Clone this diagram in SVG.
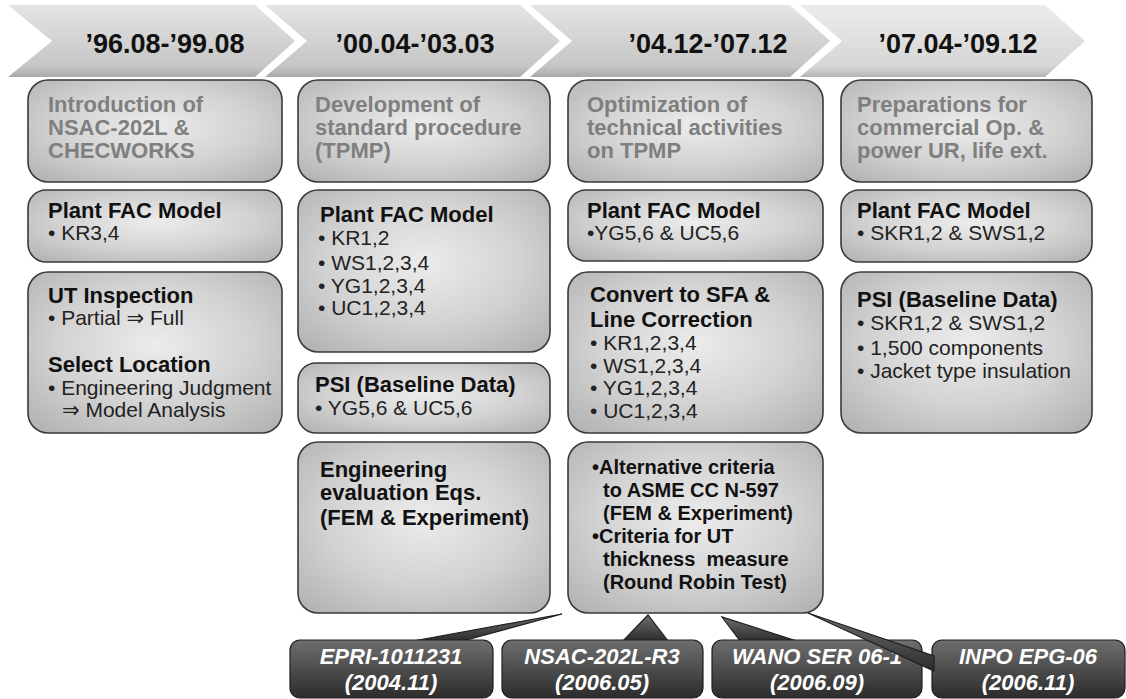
<svg xmlns="http://www.w3.org/2000/svg" width="1126" height="699" viewBox="0 0 1126 699">
<defs>
<linearGradient id="chev" x1="0" y1="0" x2="0" y2="1">
<stop offset="0" stop-color="#e4e4e4"/>
<stop offset="0.85" stop-color="#c6c6c6"/>
<stop offset="1" stop-color="#a9a9a9"/>
</linearGradient>
<linearGradient id="chev4" x1="0" y1="0" x2="0" y2="1">
<stop offset="0" stop-color="#ececec"/>
<stop offset="0.85" stop-color="#d6d6d6"/>
<stop offset="1" stop-color="#b4b4b4"/>
</linearGradient>
<radialGradient id="boxg" cx="0.5" cy="0.45" r="0.7">
<stop offset="0" stop-color="#ececec"/>
<stop offset="0.55" stop-color="#d2d2d2"/>
<stop offset="1" stop-color="#b3b3b3"/>
</radialGradient>
<linearGradient id="dark" x1="0" y1="0" x2="0" y2="1">
<stop offset="0" stop-color="#6e6e6e"/>
<stop offset="1" stop-color="#2c2c2c"/>
</linearGradient>
<style>
.box{fill:url(#boxg);stroke:#3a3a3a;stroke-width:1.6}
.dk{fill:url(#dark);stroke:#1e1e1e;stroke-width:1.2}
.hd{font-family:"Liberation Sans",Arial,sans-serif;font-weight:bold;font-size:27px;fill:#111;text-anchor:middle}
.g{font-family:"Liberation Sans",Arial,sans-serif;font-weight:bold;font-size:22px;fill:#7f7f7f}
.b{font-family:"Liberation Sans",Arial,sans-serif;font-weight:bold;font-size:22px;fill:#111}
.s{font-family:"Liberation Sans",Arial,sans-serif;font-weight:bold;font-size:20px;fill:#111}
.r{font-family:"Liberation Sans","DejaVu Sans",Arial,sans-serif;font-size:21px;fill:#222}
.w{font-family:"Liberation Sans",Arial,sans-serif;font-weight:bold;font-style:italic;font-size:22px;fill:#fff;text-anchor:middle}
</style>
</defs>
<rect width="1126" height="699" fill="#fff"/>

<g id="headers">
<g id="h1"><polygon points="8,5 255,5 295,41 255,77 8,77 52,41" fill="url(#chev)"/><text class="hd" x="165" y="53">’96.08-’99.08</text></g>
<g id="h2"><polygon points="265,5 520,5 560,41 520,77 265,77 307,41" fill="url(#chev)"/><text class="hd" x="415" y="53">’00.04-’03.03</text></g>
<g id="h3"><polygon points="530,5 790,5 830,41 790,77 530,77 572,41" fill="url(#chev)"/><text class="hd" x="708" y="53">’04.12-’07.12</text></g>
<g id="h4"><polygon points="800,5 1045,5 1085,41 1045,77 800,77 842,41" fill="url(#chev4)"/><text class="hd" x="958" y="53">’07.04-’09.12</text></g>
</g>

<g id="col1">
<g id="c1b1"><rect class="box" x="28" y="80" width="254" height="102" rx="20"/>
<text class="g" x="48" y="112">Introduction of</text><text class="g" x="48" y="135">NSAC-202L &amp;</text><text class="g" x="48" y="158">CHECWORKS</text></g>
<g id="c1b2"><rect class="box" x="28" y="190" width="254" height="72" rx="18"/>
<text class="b" x="48" y="218">Plant FAC Model</text><text class="r" x="48" y="240">• KR3,4</text></g>
<g id="c1b3"><rect class="box" x="28" y="272" width="254" height="161" rx="20"/>
<text class="b" x="48" y="303">UT Inspection</text><text class="r" x="48" y="325">• Partial ⇒ Full</text>
<text class="b" x="48" y="372">Select Location</text><text class="r" x="48" y="395">• Engineering Judgment</text><text class="r" x="62" y="417">⇒ Model Analysis</text></g>
</g>

<g id="col2">
<g id="c2b1"><rect class="box" x="298" y="80" width="252" height="102" rx="20"/>
<text class="g" x="315" y="112">Development of</text><text class="g" x="315" y="135">standard procedure</text><text class="g" x="315" y="158">(TPMP)</text></g>
<g id="c2b2"><rect class="box" x="298" y="190" width="252" height="162" rx="20"/>
<text class="b" x="320" y="222">Plant FAC Model</text><text class="r" x="318" y="245">• KR1,2</text><text class="r" x="318" y="270">• WS1,2,3,4</text><text class="r" x="318" y="293">• YG1,2,3,4</text><text class="r" x="318" y="315">• UC1,2,3,4</text></g>
<g id="c2b3"><rect class="box" x="298" y="363" width="252" height="70" rx="18"/>
<text class="b" x="315" y="392">PSI (Baseline Data)</text><text class="r" x="315" y="415">• YG5,6 &amp; UC5,6</text></g>
<g id="c2b4"><rect class="box" x="298" y="442" width="252" height="171" rx="20"/>
<text class="b" x="320" y="477">Engineering</text><text class="b" x="320" y="500">evaluation Eqs.</text><text class="b" x="320" y="525">(FEM &amp; Experiment)</text></g>
</g>

<g id="col3">
<g id="c3b1"><rect class="box" x="568" y="80" width="255" height="102" rx="20"/>
<text class="g" x="587" y="112">Optimization of</text><text class="g" x="587" y="135">technical activities</text><text class="g" x="587" y="158">on TPMP</text></g>
<g id="c3b2"><rect class="box" x="568" y="190" width="255" height="71" rx="18"/>
<text class="b" x="587" y="218">Plant FAC Model</text><text class="r" x="587" y="240">•YG5,6 &amp; UC5,6</text></g>
<g id="c3b3"><rect class="box" x="568" y="272" width="255" height="161" rx="20"/>
<text class="b" x="590" y="302">Convert to SFA &amp;</text><text class="b" x="590" y="327">Line Correction</text>
<text class="r" x="590" y="350">• KR1,2,3,4</text><text class="r" x="590" y="373">• WS1,2,3,4</text><text class="r" x="590" y="395">• YG1,2,3,4</text><text class="r" x="590" y="418">• UC1,2,3,4</text></g>
<g id="c3b4"><rect class="box" x="568" y="442" width="255" height="171" rx="20"/>
<text class="s" x="592" y="474">•Alternative criteria</text><text class="s" x="603" y="497">to ASME CC N-597</text><text class="s" x="603" y="520">(FEM &amp; Experiment)</text>
<text class="s" x="592" y="543">•Criteria for UT</text><text class="s" x="603" y="566" xml:space="preserve">thickness  measure</text><text class="s" x="603" y="589">(Round Robin Test)</text></g>
</g>

<g id="col4">
<g id="c4b1"><rect class="box" x="841" y="80" width="251" height="102" rx="20"/>
<text class="g" x="857" y="112">Preparations for</text><text class="g" x="857" y="135">commercial Op. &amp;</text><text class="g" x="857" y="158">power UR, life ext.</text></g>
<g id="c4b2"><rect class="box" x="841" y="190" width="251" height="72" rx="18"/>
<text class="b" x="857" y="218">Plant FAC Model</text><text class="r" x="857" y="240">• SKR1,2 &amp; SWS1,2</text></g>
<g id="c4b3"><rect class="box" x="841" y="272" width="251" height="161" rx="20"/>
<text class="b" x="857" y="307">PSI (Baseline Data)</text><text class="r" x="857" y="330">• SKR1,2 &amp; SWS1,2</text><text class="r" x="857" y="355">• 1,500 components</text><text class="r" x="857" y="378">• Jacket type insulation</text></g>
</g>

<g id="connectors">
<polygon class="dk" points="413,641 562,614 463,641"/>
<polygon class="dk" points="623,641 648,615 668,641"/>
<polygon class="dk" points="740,641 722,617 797,641"/>
</g>

<g id="refs">
<g id="r1"><rect class="dk" x="290" y="640" width="203" height="58" rx="10"/><text class="w" x="391" y="664">EPRI-1011231</text><text class="w" x="391" y="690">(2004.11)</text></g>
<g id="r2"><rect class="dk" x="502" y="640" width="201" height="58" rx="10"/><text class="w" x="602" y="664">NSAC-202L-R3</text><text class="w" x="602" y="690">(2006.05)</text></g>
<g id="r3"><rect class="dk" x="712" y="640" width="210" height="58" rx="10"/><text class="w" x="817" y="664">WANO SER 06-1</text><text class="w" x="817" y="690">(2006.09)</text></g>
<g id="r4"><rect class="dk" x="932" y="640" width="193" height="58" rx="10"/><text class="w" x="1028" y="664">INPO EPG-06</text><text class="w" x="1028" y="690">(2006.11)</text></g>
</g>
<g id="connectors2">
<polygon class="dk" points="808,613 934,656 934,671"/>
</g>
</svg>
